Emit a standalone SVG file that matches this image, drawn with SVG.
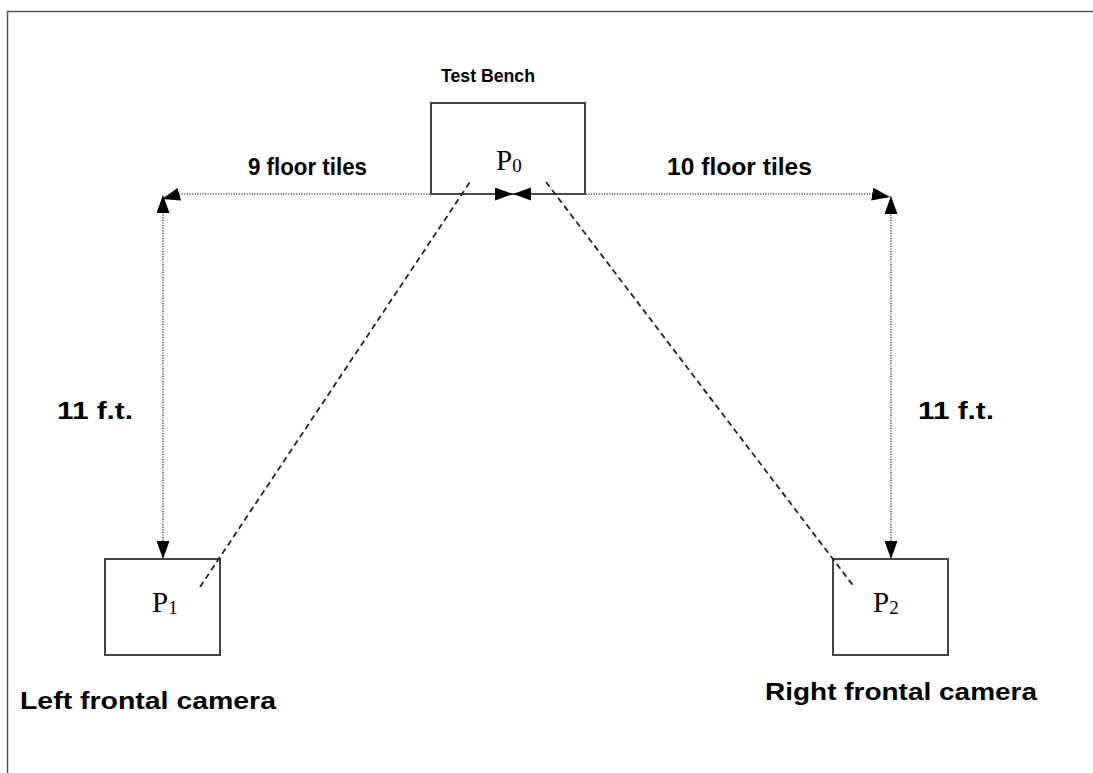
<svg xmlns="http://www.w3.org/2000/svg" width="1093" height="773" viewBox="0 0 1093 773">
  <style>
    .frame { fill: none; stroke: #555; stroke-width: 1.5; }
    .box { fill: #fff; stroke: #444; stroke-width: 2; }
    .dim { fill: none; stroke: #555; stroke-width: 1.6; stroke-dasharray: 1.2 1.4; }
    .sight { fill: none; stroke: #222; stroke-width: 1.8; stroke-dasharray: 6 4; }
    .lbl { font-family: "Liberation Sans", Arial, sans-serif; font-weight: bold; font-size: 23px; fill: #000; }
    .title { font-size: 19px; }
    .pt { font-family: "Liberation Serif", "Times New Roman", serif; font-size: 29px; fill: #000; }
    .sub { font-size: 19px; }
  </style>
  <defs>
    <marker id="tri" markerUnits="userSpaceOnUse" markerWidth="19" markerHeight="14" refX="18" refY="6.5" orient="auto-start-reverse">
      <path d="M0,0 L18,6.5 L0,13 z" fill="#000"/>
    </marker>
  </defs>

  <!-- page frame -->
  <path class="frame" d="M7.5,773 L7.5,11.5 L1093,11.5"/>

  <g id="test-bench">
    <rect class="box" x="431" y="103" width="154" height="91"/>
    <text class="pt" x="496" y="170">P<tspan class="sub" dy="2">0</tspan></text>
    <text class="lbl title" x="441" y="82" textLength="94" lengthAdjust="spacingAndGlyphs">Test Bench</text>
  </g>

  <g id="left-camera">
    <rect class="box" x="105" y="559" width="115" height="96"/>
    <text class="pt" x="152" y="612">P<tspan class="sub" dy="2">1</tspan></text>
    <text class="lbl" x="20" y="709" textLength="256" lengthAdjust="spacingAndGlyphs">Left frontal camera</text>
  </g>

  <g id="right-camera">
    <rect class="box" x="833" y="559" width="115" height="96"/>
    <text class="pt" x="873" y="612">P<tspan class="sub" dy="2">2</tspan></text>
    <text class="lbl" x="765" y="700" textLength="272" lengthAdjust="spacingAndGlyphs">Right frontal camera</text>
  </g>

  <!-- dimension and sight lines, drawn over the boxes -->
  <g id="connectors">
    <path class="dim" d="M513,194 L180,194 L162,199" marker-start="url(#tri)" marker-end="url(#tri)"/>
    <path class="dim" d="M513,194 L872,194 L890,197" marker-start="url(#tri)" marker-end="url(#tri)"/>
    <path class="dim" d="M163,559 L163,213 L163,195" marker-start="url(#tri)" marker-end="url(#tri)"/>
    <path class="dim" d="M891,559 L891,213 L891,196" marker-start="url(#tri)" marker-end="url(#tri)"/>
    <line class="sight" x1="200" y1="587" x2="470" y2="182"/>
    <line class="sight" x1="546" y1="182" x2="855" y2="588"/>
  </g>

  <g id="dimension-labels">
    <text class="lbl" x="248" y="175" textLength="119" lengthAdjust="spacingAndGlyphs">9 floor tiles</text>
    <text class="lbl" x="667" y="175" textLength="145" lengthAdjust="spacingAndGlyphs">10 floor tiles</text>
    <text class="lbl" x="57" y="419" textLength="76" lengthAdjust="spacingAndGlyphs">11 f.t.</text>
    <text class="lbl" x="918" y="419" textLength="76" lengthAdjust="spacingAndGlyphs">11 f.t.</text>
  </g>
</svg>
